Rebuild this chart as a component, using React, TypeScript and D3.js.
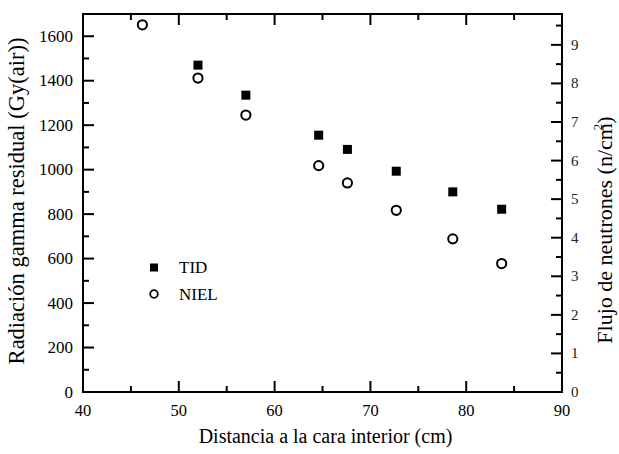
import React from "react";
import * as d3 from "d3";

const tidDistances = [52.0, 57.0, 64.6, 67.6, 72.7, 78.6, 83.7];
const tidValues = [1470, 1335, 1155, 1091, 993, 900, 822];
const nielDistances = [46.2, 52.0, 57.0, 64.6, 67.6, 72.7, 78.6, 83.7];
const nielValues = [9.52, 8.14, 7.18, 5.87, 5.42, 4.71, 3.97, 3.33];
const xTicks = [40, 50, 60, 70, 80, 90];
const xMinor = [45, 55, 65, 75, 85];
const leftTicks = [0, 200, 400, 600, 800, 1000, 1200, 1400, 1600];
const leftMinor = [100, 300, 500, 700, 900, 1100, 1300, 1500];
const rightTicks = [0, 1, 2, 3, 4, 5, 6, 7, 8, 9];
const rightMinor = [0.5, 1.5, 2.5, 3.5, 4.5, 5.5, 6.5, 7.5, 8.5, 9.5];
const legendLabels = ["TID", "NIEL"];

const W = 619, H = 454;
const L = 83, R = 562, T = 14, B = 392;
const font = "Liberation Serif, Times New Roman, serif";

export default function App() {
  const x = d3.scaleLinear().domain([40, 90]).range([L, R]);
  const yl = d3.scaleLinear().domain([0, 1700]).range([B, T]);
  const yr = d3.scaleLinear().domain([0, 9.8]).range([B, T]);
  const MAJ = 11, MIN = 6;
  const sw = 2;
  const ts = { fontFamily: font };
  return (
    <svg width={W} height={H} style={{ position: "absolute", left: 0, top: 0, background: "#fff", fontFamily: font }}>
      <rect x={0} y={0} width={W} height={H} fill="#fff" />
      <g stroke="#000" strokeWidth={sw}>
        {xTicks.map((t) => (
          <g key={"xt" + t}>
            <line x1={x(t)} x2={x(t)} y1={B} y2={B - MAJ} />
            <line x1={x(t)} x2={x(t)} y1={T} y2={T + MAJ} />
          </g>
        ))}
        {xMinor.map((t) => (
          <g key={"xm" + t}>
            <line x1={x(t)} x2={x(t)} y1={B} y2={B - MIN} />
            <line x1={x(t)} x2={x(t)} y1={T} y2={T + MIN} />
          </g>
        ))}
        {leftTicks.map((t) => (
          <line key={"lt" + t} x1={L} x2={L + MAJ} y1={yl(t)} y2={yl(t)} />
        ))}
        {leftMinor.map((t) => (
          <line key={"lm" + t} x1={L} x2={L + MIN} y1={yl(t)} y2={yl(t)} />
        ))}
        {rightTicks.map((t) => (
          <line key={"rt" + t} x1={R} x2={R - MAJ} y1={yr(t)} y2={yr(t)} />
        ))}
        {rightMinor.map((t) => (
          <line key={"rm" + t} x1={R} x2={R - MIN} y1={yr(t)} y2={yr(t)} />
        ))}
      </g>
      <rect x={L} y={T} width={R - L} height={B - T} fill="none" stroke="#000" strokeWidth={sw} />
      <g fontSize={17} fill="#000">
        {leftTicks.map((t) => (
          <text key={"ll" + t} style={ts} x={L - 10} y={yl(t)} textAnchor="end" dominantBaseline="central">{t}</text>
        ))}
      </g>
      <g fontSize={16.5} fill="#000">
        {xTicks.map((t) => (
          <text key={"xl" + t} style={ts} x={x(t)} y={416} textAnchor="middle">{t}</text>
        ))}
      </g>
      <g fontSize={15} fill="#222">
        {rightTicks.map((t) => (
          <text key={"rl" + t} style={ts} x={R + 9} y={yr(t)} textAnchor="start" dominantBaseline="central">{t}</text>
        ))}
      </g>
      <text style={ts} x={(L + R) / 2 + 3} y={443} textAnchor="middle" fontSize={20}>Distancia a la cara interior (cm)</text>
      <text style={ts} transform={`translate(24,${(T + B) / 2 - 2}) rotate(-90)`} textAnchor="middle" fontSize={22.5}>Radiación gamma residual (Gy(air))</text>
      <text style={ts} transform={`translate(612,230) rotate(-90)`} textAnchor="middle" fontSize={22}>
        Flujo de neutrones (n/cm<tspan fontSize={13} dx={-7} dy={-10}>2</tspan><tspan dy={10}>)</tspan>
      </text>
      <g>
        {tidDistances.map((d, i) => (
          <rect key={"s" + i} x={x(d) - 4.5} y={yl(tidValues[i]) - 4.5} width={9} height={9} fill="#000" />
        ))}
        {nielDistances.map((d, i) => (
          <circle key={"c" + i} cx={x(d)} cy={yr(nielValues[i])} r={4.6} fill="#fff" stroke="#000" strokeWidth={2} />
        ))}
      </g>
      <g>
        <rect x={154 - 4} y={267.5 - 4} width={8} height={8} fill="#000" />
        <circle cx={154} cy={294} r={3.8} fill="#fff" stroke="#000" strokeWidth={1.8} />
        <text style={ts} x={179} y={267.5} dominantBaseline="central" fontSize={17}>{legendLabels[0]}</text>
        <text style={ts} x={179} y={294} dominantBaseline="central" fontSize={17}>{legendLabels[1]}</text>
      </g>
    </svg>
  );
}
